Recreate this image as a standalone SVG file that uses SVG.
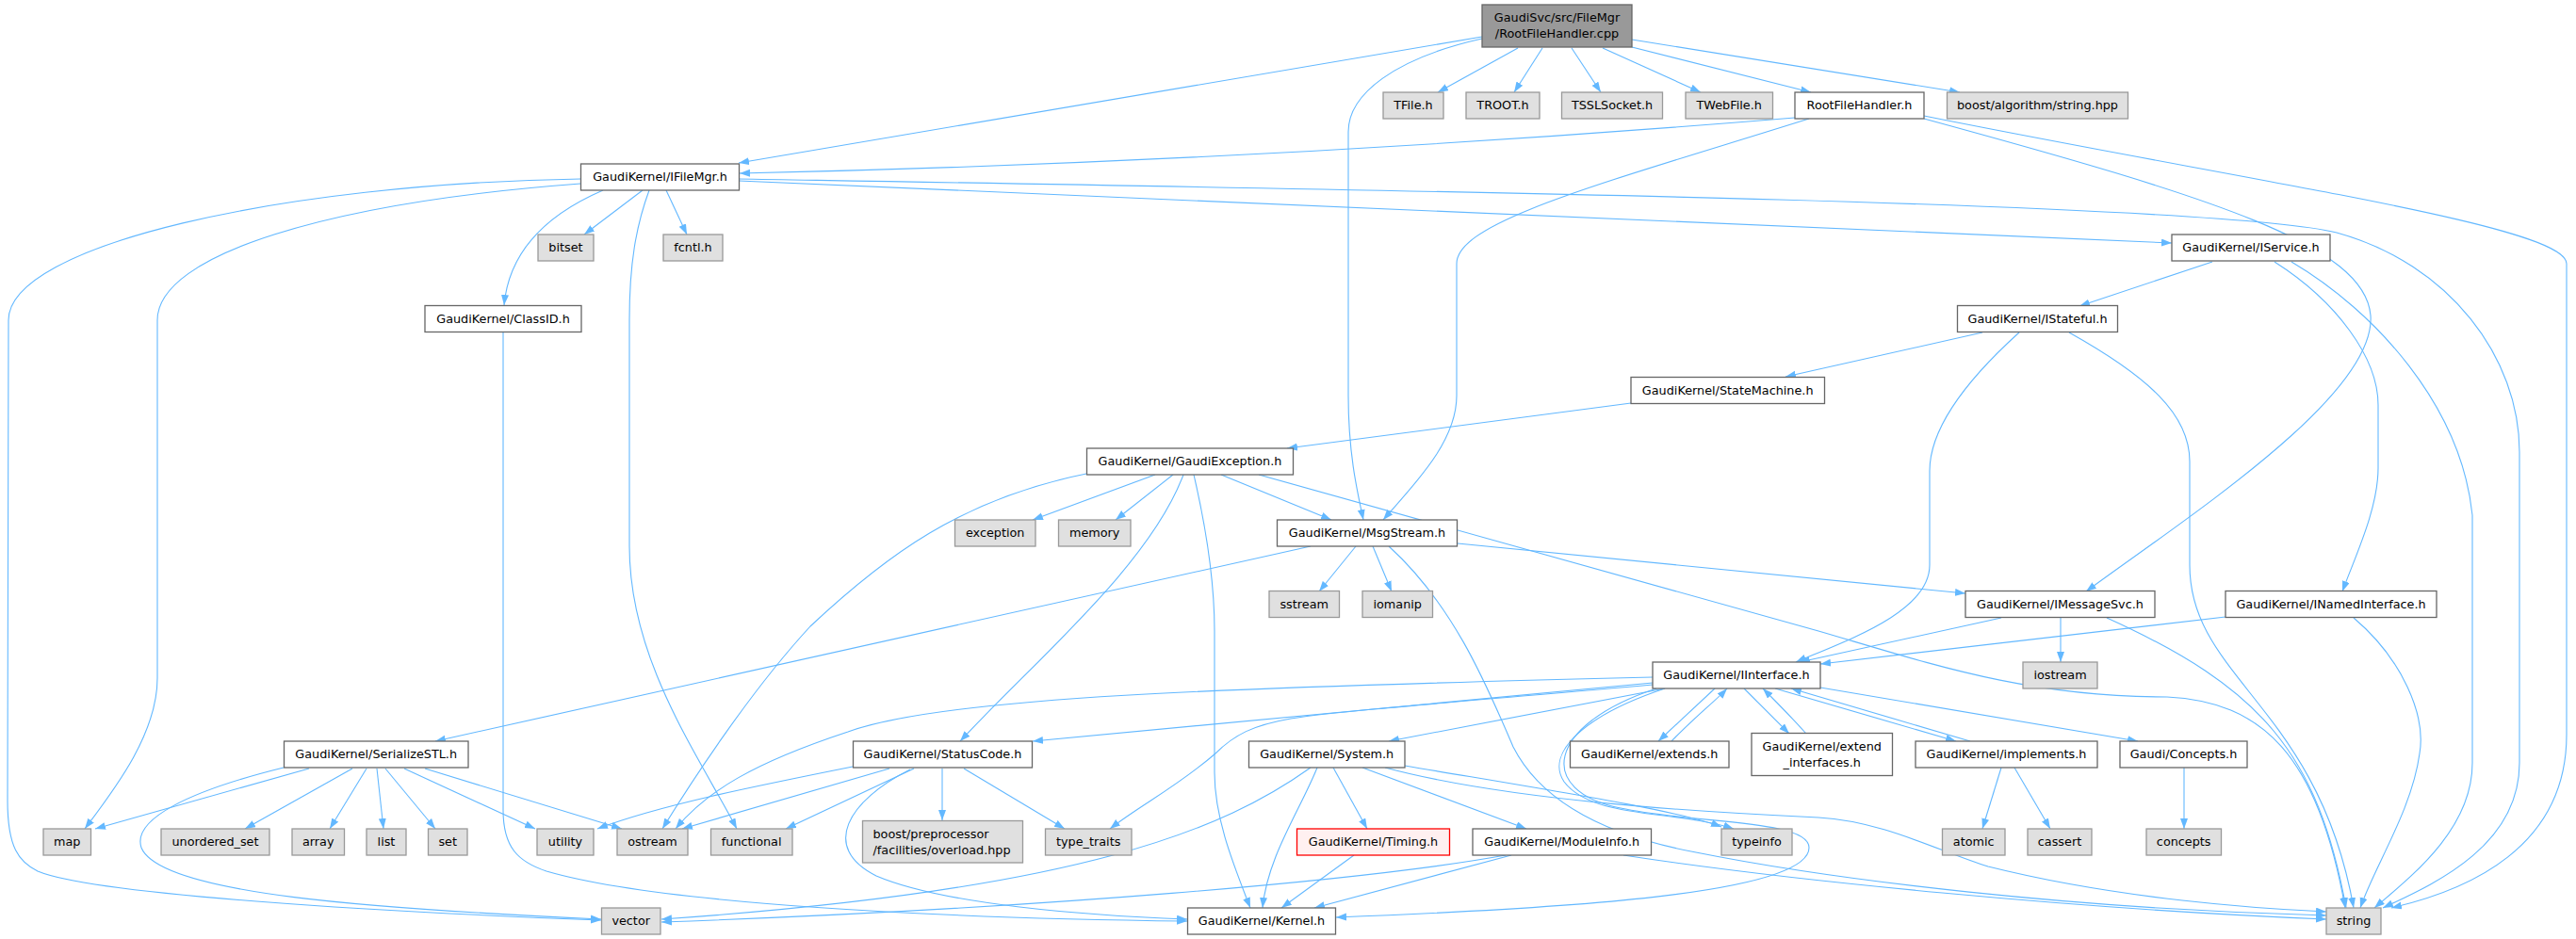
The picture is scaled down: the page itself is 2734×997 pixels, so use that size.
<svg xmlns="http://www.w3.org/2000/svg" width="2734" height="997" viewBox="0 0 2734 997">
<defs>
<marker id="a" markerUnits="userSpaceOnUse" markerWidth="12" markerHeight="9" refX="11" refY="4" orient="auto"><path d="M0,0 L11,4 L0,8 z" fill="#63b8ff"/></marker>
<style>
.e path{fill:none;stroke:#63b8ff;stroke-width:1.1;marker-end:url(#a)}
.i rect{fill:#ffffff;stroke:#666666;stroke-width:1.3}
.x rect{fill:#e0e0e0;stroke:#999999;stroke-width:1.3}
.m rect{fill:#999999;stroke:#666666;stroke-width:1.3}
.r rect{fill:#fff0f0;stroke:#ff0000;stroke-width:1.3}
text{font-family:"DejaVu Sans","Noto Sans",sans-serif;font-size:12.8px;text-anchor:middle;fill:#000}
</style>
</defs>
<rect width="2734" height="997" fill="#ffffff"/>
<g class="e" id="edges">
<path d="M1573,39 L784,173"/>
<path d="M1573,41 C1480,62 1431,100 1431,140 L1431,420 C1431,480 1440,520 1447,552"/>
<path d="M1611,51 L1526,98"/>
<path d="M1637,51 L1607,98"/>
<path d="M1668,51 L1699,98"/>
<path d="M1701,51 L1805,98"/>
<path d="M1732,50 L1922,98"/>
<path d="M1732,42 L2080,98"/>
<path d="M1905,125 C1600,150 1200,175 785,184"/>
<path d="M1920,126 C1700,195 1546,235 1546,280 L1546,420 C1546,470 1500,515 1468,552"/>
<path d="M2042,126 C2350,210 2510,260 2516,335 C2522,420 2320,550 2214,628"/>
<path d="M2042,123 C2400,195 2724,240 2724,280 L2724,780 C2724,900 2620,945 2538,964"/>
<path d="M682,202 L620,249"/>
<path d="M707,202 L729,249"/>
<path d="M640,202 C575,230 540,270 535,324"/>
<path d="M616,195 C350,215 167,270 167,340 L167,720 C167,780 120,840 90,880"/>
<path d="M616,190 C300,195 9,260 9,340 L8,850 C8,900 20,915 40,925 C100,950 400,968 638,977"/>
<path d="M689,202 C675,240 668,280 668,340 L668,580 C668,700 740,800 782,880"/>
<path d="M784,192 L2305,258"/>
<path d="M784,190 C1500,202 2350,215 2480,247 C2600,280 2674,380 2674,480 L2674,810 C2674,900 2580,940 2529,964"/>
<path d="M534,353 L534,860 C534,900 550,915 580,925 C700,960 1000,975 1260,978"/>
<path d="M2348,278 L2207,325"/>
<path d="M2414,278 C2480,320 2524,380 2524,430 L2524,497 C2524,540 2500,590 2486,628"/>
<path d="M2432,278 C2520,330 2612,430 2624,547 L2624,810 C2624,880 2560,930 2520,964"/>
<path d="M2104,353 L1895,400"/>
<path d="M2143,353 C2080,410 2048,460 2048,500 L2048,600 C2048,650 1960,680 1906,703"/>
<path d="M2196,353 C2280,400 2324,440 2324,490 L2324,600 C2324,720 2460,750 2498,964"/>
<path d="M1731,428 L1366,476"/>
<path d="M1226,504 L1096,552"/>
<path d="M1245,504 L1184,552"/>
<path d="M1296,504 L1413,552"/>
<path d="M1256,504 C1220,600 1100,700 1019,787"/>
<path d="M1267,504 C1280,560 1289,620 1289,670 L1289,820 C1289,870 1310,920 1327,964"/>
<path d="M1153,503 C1020,530 940,590 860,665 C800,730 740,820 703,880"/>
<path d="M1336,504 L1930,670 C2050,705 2150,740 2300,740 C2400,745 2460,800 2489,964"/>
<path d="M1439,580 L1400,628"/>
<path d="M1457,580 L1477,628"/>
<path d="M1391,580 L462,787"/>
<path d="M1547,577 L2086,630"/>
<path d="M1474,580 C1540,640 1575,720 1606,793 C1640,860 1720,890 1800,905 C1950,935 2200,965 2469,972"/>
<path d="M2124,656 L1910,703"/>
<path d="M2187,656 L2187,703"/>
<path d="M2236,656 C2400,730 2460,800 2490,964"/>
<path d="M2362,655 L1932,705"/>
<path d="M2498,656 C2550,700 2575,760 2568,800 C2560,860 2520,920 2505,964"/>
<path d="M1754,725 L1096,787"/>
<path d="M1767,731 L1474,787"/>
<path d="M1820,731 L1760,787"/>
<path d="M1774,787 C1800,760 1820,745 1833,731"/>
<path d="M1851,731 L1899,779"/>
<path d="M1917,779 C1900,760 1885,745 1871,731"/>
<path d="M1884,731 L2076,787"/>
<path d="M2091,787 L1901,731"/>
<path d="M1932,730 L2269,787"/>
<path d="M1754,719 C1300,730 1000,740 900,777 C800,810 750,840 717,880"/>
<path d="M1754,727 C1550,745 1420,755 1370,763 C1330,770 1310,780 1290,800 C1250,835 1210,855 1178,880"/>
<path d="M1767,731 C1680,760 1640,800 1660,830 C1690,870 1780,860 1840,880"/>
<path d="M1758,731 C1640,770 1630,840 1720,858 C1800,875 1920,870 1920,900 C1920,950 1650,965 1418,974"/>
<path d="M1391,815 C1300,880 1150,945 702,976"/>
<path d="M1398,815 C1380,860 1345,910 1340,964"/>
<path d="M1415,815 L1451,880"/>
<path d="M1446,815 L1620,880"/>
<path d="M1491,813 C1650,840 1780,860 1827,878"/>
<path d="M1470,815 C1600,850 1800,862 1930,868 C2000,872 2060,905 2110,920 C2250,955 2400,965 2469,968"/>
<path d="M1437,908 L1360,964"/>
<path d="M1604,908 L1395,964"/>
<path d="M1598,908 C1450,935 1100,965 702,979"/>
<path d="M1723,908 C1900,935 2200,965 2469,976"/>
<path d="M2124,815 L2104,880"/>
<path d="M2138,815 L2176,880"/>
<path d="M2318,815 L2318,880"/>
<path d="M944,816 L724,880"/>
<path d="M905,814 C800,835 700,855 634,880"/>
<path d="M970,816 L834,880"/>
<path d="M1000,816 L1000,871"/>
<path d="M1023,816 L1130,880"/>
<path d="M966,817 C900,850 870,900 930,930 C1000,960 1150,972 1260,976"/>
<path d="M328,816 L101,880"/>
<path d="M301,815 C200,840 140,870 150,900 C170,950 400,965 638,976"/>
<path d="M374,816 L260,880"/>
<path d="M389,816 L350,880"/>
<path d="M400,816 L407,880"/>
<path d="M409,816 L462,880"/>
<path d="M429,816 L568,880"/>
<path d="M451,816 L660,880"/>
</g>
<g id="n_main" class="m"><rect x="1573" y="5" width="159" height="45"/><text x="1652.5" y="23">GaudiSvc/src/FileMgr</text><text x="1652.5" y="40">/RootFileHandler.cpp</text></g>
<g id="n_tfile" class="x"><rect x="1468" y="98" width="64" height="28"/><text x="1500" y="116">TFile.h</text></g>
<g id="n_troot" class="x"><rect x="1556" y="98" width="78" height="28"/><text x="1595" y="116">TROOT.h</text></g>
<g id="n_tssl" class="x"><rect x="1657.5" y="98" width="107" height="28"/><text x="1711" y="116">TSSLSocket.h</text></g>
<g id="n_tweb" class="x"><rect x="1789" y="98" width="92.5" height="28"/><text x="1835.2" y="116">TWebFile.h</text></g>
<g id="n_rfh" class="i"><rect x="1905" y="98" width="137" height="28"/><text x="1973.5" y="116">RootFileHandler.h</text></g>
<g id="n_boost" class="x"><rect x="2066.5" y="98" width="192" height="28"/><text x="2162.5" y="116">boost/algorithm/string.hpp</text></g>
<g id="n_ifilemgr" class="i"><rect x="616.5" y="174" width="168" height="28"/><text x="700.5" y="192">GaudiKernel/IFileMgr.h</text></g>
<g id="n_bitset" class="x"><rect x="571" y="249" width="59" height="28"/><text x="600.5" y="267">bitset</text></g>
<g id="n_fcntl" class="x"><rect x="704" y="249" width="63" height="28"/><text x="735.5" y="267">fcntl.h</text></g>
<g id="n_iservice" class="i"><rect x="2305" y="249" width="168" height="28"/><text x="2389" y="267">GaudiKernel/IService.h</text></g>
<g id="n_classid" class="i"><rect x="451" y="324.5" width="166" height="28"/><text x="534" y="342.5">GaudiKernel/ClassID.h</text></g>
<g id="n_istateful" class="i"><rect x="2077.5" y="324.5" width="170" height="28"/><text x="2162.5" y="342.5">GaudiKernel/IStateful.h</text></g>
<g id="n_statemachine" class="i"><rect x="1731" y="400.5" width="205.5" height="28"/><text x="1833.7" y="418.5">GaudiKernel/StateMachine.h</text></g>
<g id="n_gexc" class="i"><rect x="1153.5" y="476" width="219" height="28"/><text x="1263" y="494">GaudiKernel/GaudiException.h</text></g>
<g id="n_exception" class="x"><rect x="1013.5" y="552" width="85.5" height="28"/><text x="1056.2" y="570">exception</text></g>
<g id="n_memory" class="x"><rect x="1123.5" y="552" width="76.5" height="28"/><text x="1161.7" y="570">memory</text></g>
<g id="n_msgstream" class="i"><rect x="1355.5" y="552" width="191" height="28"/><text x="1451" y="570">GaudiKernel/MsgStream.h</text></g>
<g id="n_sstream" class="x"><rect x="1347" y="627.5" width="74.5" height="28"/><text x="1384.2" y="645.5">sstream</text></g>
<g id="n_iomanip" class="x"><rect x="1446" y="627.5" width="74.5" height="28"/><text x="1483.2" y="645.5">iomanip</text></g>
<g id="n_imsgsvc" class="i"><rect x="2086" y="627.5" width="201" height="28"/><text x="2186.5" y="645.5">GaudiKernel/IMessageSvc.h</text></g>
<g id="n_inamed" class="i"><rect x="2362" y="627.5" width="224" height="28"/><text x="2474" y="645.5">GaudiKernel/INamedInterface.h</text></g>
<g id="n_iostream" class="x"><rect x="2147" y="703" width="79" height="28"/><text x="2186.5" y="721">iostream</text></g>
<g id="n_iinterface" class="i"><rect x="1754" y="703" width="178" height="28"/><text x="1843" y="721">GaudiKernel/IInterface.h</text></g>
<g id="n_serialize" class="i"><rect x="301.5" y="787" width="195.5" height="28"/><text x="399.2" y="805">GaudiKernel/SerializeSTL.h</text></g>
<g id="n_statuscode" class="i"><rect x="905.5" y="787" width="190" height="28"/><text x="1000.5" y="805">GaudiKernel/StatusCode.h</text></g>
<g id="n_system" class="i"><rect x="1325.5" y="787" width="165.5" height="28"/><text x="1408.2" y="805">GaudiKernel/System.h</text></g>
<g id="n_extends" class="i"><rect x="1666.5" y="787" width="168.5" height="28"/><text x="1750.7" y="805">GaudiKernel/extends.h</text></g>
<g id="n_extif" class="i"><rect x="1859" y="778.5" width="149.5" height="45"/><text x="1933.7" y="797">GaudiKernel/extend</text><text x="1933.7" y="814">_interfaces.h</text></g>
<g id="n_implements" class="i"><rect x="2033" y="787" width="193" height="28"/><text x="2129.5" y="805">GaudiKernel/implements.h</text></g>
<g id="n_concepts_h" class="i"><rect x="2250" y="787" width="135" height="28"/><text x="2317.5" y="805">Gaudi/Concepts.h</text></g>
<g id="n_map" class="x"><rect x="46" y="880" width="50.5" height="28"/><text x="71.2" y="898">map</text></g>
<g id="n_uset" class="x"><rect x="171" y="880" width="115" height="28"/><text x="228.5" y="898">unordered_set</text></g>
<g id="n_array" class="x"><rect x="310" y="880" width="55.5" height="28"/><text x="337.7" y="898">array</text></g>
<g id="n_list" class="x"><rect x="389" y="880" width="42" height="28"/><text x="410" y="898">list</text></g>
<g id="n_set" class="x"><rect x="454.5" y="880" width="41.5" height="28"/><text x="475.2" y="898">set</text></g>
<g id="n_utility" class="x"><rect x="570" y="880" width="60" height="28"/><text x="600" y="898">utility</text></g>
<g id="n_ostream" class="x"><rect x="655" y="880" width="75" height="28"/><text x="692.5" y="898">ostream</text></g>
<g id="n_functional" class="x"><rect x="754.5" y="880" width="86.5" height="28"/><text x="797.7" y="898">functional</text></g>
<g id="n_overload" class="x"><rect x="915.5" y="871.5" width="170" height="44.5"/><text x="926.5" y="890" style="text-anchor:start">boost/preprocessor</text><text x="926.5" y="907" style="text-anchor:start">/facilities/overload.hpp</text></g>
<g id="n_typetraits" class="x"><rect x="1109.5" y="880" width="91.5" height="28"/><text x="1155.2" y="898">type_traits</text></g>
<g id="n_timing" class="r"><rect x="1376.5" y="880" width="162" height="28"/><text x="1457.5" y="898">GaudiKernel/Timing.h</text></g>
<g id="n_moduleinfo" class="i"><rect x="1563" y="880" width="189.5" height="28"/><text x="1657.7" y="898">GaudiKernel/ModuleInfo.h</text></g>
<g id="n_typeinfo" class="x"><rect x="1827" y="880" width="75" height="28"/><text x="1864.5" y="898">typeinfo</text></g>
<g id="n_atomic" class="x"><rect x="2061.5" y="880" width="66.5" height="28"/><text x="2094.7" y="898">atomic</text></g>
<g id="n_cassert" class="x"><rect x="2152" y="880" width="68" height="28"/><text x="2186" y="898">cassert</text></g>
<g id="n_concepts" class="x"><rect x="2278" y="880" width="79.5" height="28"/><text x="2317.7" y="898">concepts</text></g>
<g id="n_vector" class="x"><rect x="638.5" y="964" width="62.5" height="28"/><text x="669.7" y="982">vector</text></g>
<g id="n_kernel" class="i"><rect x="1260.5" y="964" width="157" height="28"/><text x="1339" y="982">GaudiKernel/Kernel.h</text></g>
<g id="n_string" class="x"><rect x="2469" y="964" width="58" height="28"/><text x="2498" y="982">string</text></g>
</svg>
